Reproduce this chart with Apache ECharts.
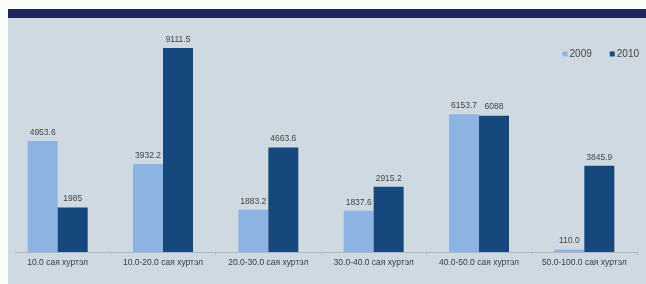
<!DOCTYPE html>
<html><head><meta charset="utf-8">
<script src="https://cdn.jsdelivr.net/npm/echarts@6/dist/echarts.min.js"></script>
<style>html,body{margin:0;padding:0;background:#fafcf8;}#c{width:646px;height:284px;}</style>
</head><body><div id="c"></div>
<script>
const categories = ["10.0 сая хуртэл","10.0-20.0 сая хуртэл","20.0-30.0 сая хуртэл","30.0-40.0 сая хуртэл","40.0-50.0 сая хуртэл","50.0-100.0 сая хуртэл"];
const seriesNames = ["2009","2010"];
const values2009 = [4953.6, 3932.2, 1883.2, 1837.6, 6153.7, 110.0];
const values2010 = [1985, 9111.5, 4663.6, 2915.2, 6088, 3845.9];

const chart = echarts.init(document.getElementById('c'), null, {renderer:'canvas'});
const FONT = 'Liberation Sans, Arial, sans-serif';
const lbl = {show:true, position:'top', distance:4, fontSize:8.5, color:'#454545', fontFamily:FONT};
chart.setOption({
  animation:false,
  backgroundColor:'#fafcf8',
  graphic:[
    {type:'rect', z:-10, shape:{x:8,y:9,width:638,height:275}, style:{fill:'#cfd9e1'}},
    {type:'rect', z:-9, shape:{x:8,y:9,width:638,height:9}, style:{fill:'#1f2556'}},
    {type:'line', z:-8, shape:{x1:15,y1:252.5,x2:638,y2:252.5}, style:{stroke:'#aeb8c0', lineWidth:1}},
    {type:'rect', z:100, shape:{x:0,y:250,width:8,height:12}, style:{fill:'#fafcf8'}}
  ],
  legend:{
    data:seriesNames, right:2, top:44, itemWidth:5, itemHeight:5, itemGap:18,
    icon:'rect',
    textStyle:{fontSize:10, color:'#454545', fontFamily:FONT, padding:[0,0,0,-3]}
  },
  grid:{left:5, right:9, top:28, bottom:32},
  xAxis:{
    type:'category', data:categories,
    axisLine:{show:false},
    axisTick:{show:true, length:3, lineStyle:{color:'#b4bec6'}},
    axisLabel:{fontSize:8.5, color:'#3a3a3a', margin:6, interval:0, fontFamily:FONT}
  },
  yAxis:{type:'value', min:0, max:10000, show:false, splitLine:{show:false}},
  series:[
    {name:seriesNames[0], type:'bar', data:values2009, barWidth:30, barGap:'0%',
     itemStyle:{color:'#8db3e2'},
     label:Object.assign({}, lbl, {formatter:p=>p.value.toFixed(1)})},
    {name:seriesNames[1], type:'bar', data:values2010, barWidth:30, barGap:'0%',
     itemStyle:{color:'#17487d'},
     label:lbl}
  ]
});
</script></body></html>
